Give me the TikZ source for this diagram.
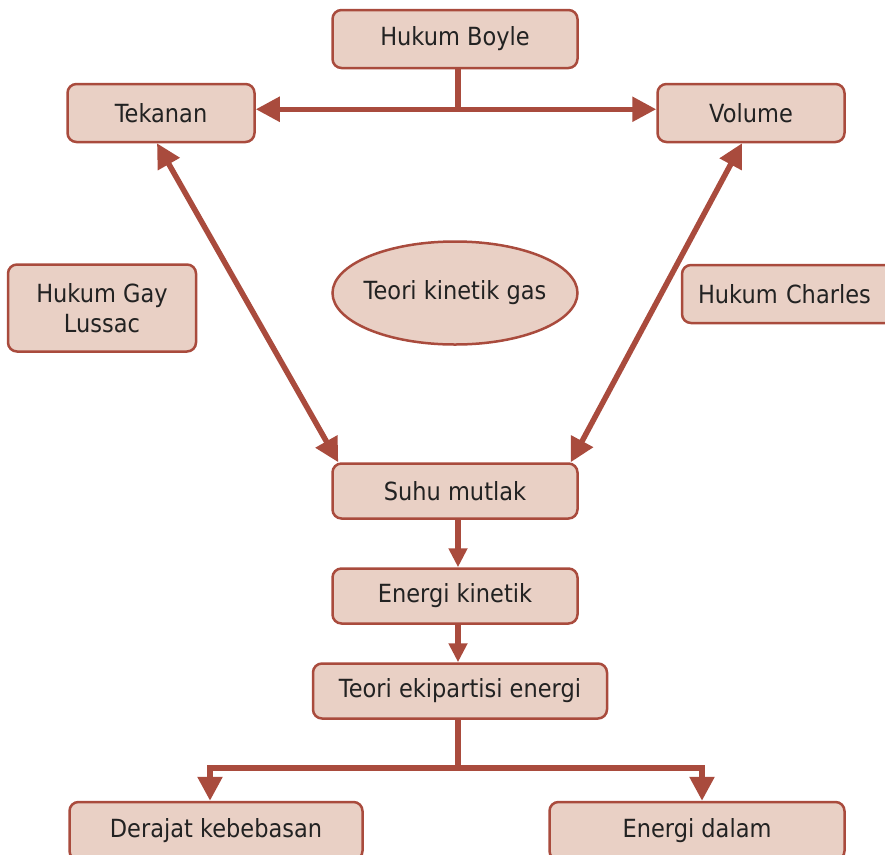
\documentclass[tikz,border=0pt]{standalone}
\usepackage{fontspec}
\setmainfont{DejaVu Sans}[FakeStretch=0.9]
\usetikzlibrary{arrows.meta, positioning, shapes.geometric}

\definecolor{edgered}{HTML}{A94B3D}
\definecolor{boxfill}{HTML}{E9D0C5}
\definecolor{txtgray}{HTML}{222222}

\begin{document}
\begin{tikzpicture}[x=1pt, y=-1pt,
    box/.style={draw=edgered, fill=boxfill, line width=2.5pt, rounded corners=9pt,
      minimum height=58pt, text=txtgray, font=\fontsize{25}{30}\selectfont, align=center},
    line/.style={draw=edgered, line width=5.5pt},
    arr/.style={line, -{Triangle[length=24pt, width=24pt]}},
    arrs/.style={line, -{Triangle[length=19pt, width=18pt]}},
    dbl/.style={line, {Triangle[length=24pt, width=24pt]}-{Triangle[length=24pt, width=24pt]}}]
  \useasboundingbox (0,0) rectangle (885,854);

  % top row
  \node[box, minimum width=245pt] (boyle) at (455,39) {Hukum Boyle};
  \node[box, minimum width=187pt] (tekanan) at (161,113) {Tekanan};
  \node[box, minimum width=187pt] (volume) at (751,113) {Volume};

  % middle
  \node[box, minimum width=188pt, minimum height=87pt] (gaylussac) at (102,308) {Hukum Gay\\Lussac};
  \node[ellipse, draw=edgered, fill=boxfill, line width=2.5pt, inner xsep=-14pt, inner ysep=0pt,
    minimum width=245pt, minimum height=103pt, text=txtgray,
    font=\fontsize{25}{30}\selectfont] (teori) at (455,293) {Teori kinetik gas};
  \node[box, minimum width=228pt, text width=196pt, align=left] (charles) at (796,294) {Hukum Charles};

  % chain
  \node[box, minimum width=245pt, minimum height=55pt] (suhu) at (455,491) {Suhu mutlak};
  \node[box, minimum width=245pt, minimum height=55pt] (ek) at (455,596) {Energi kinetik};
  \node[box, minimum width=294pt, minimum height=55pt] (ekipartisi) at (460,691) {Teori ekipartisi energi};
  \node[box, minimum width=293pt] (derajat) at (216,831) {Derajat kebebasan};
  \node[box, minimum width=295pt] (dalam) at (697,831) {Energi dalam};

  % connectors
  \draw[line] ([xshift=3pt]boyle.south) -- ++(0,40) coordinate (bj);
  \draw[dbl] (tekanan.east |- bj) -- (volume.west |- bj);
  \draw[dbl] ([xshift=-4pt]tekanan.south) -- ([xshift=7pt]suhu.north west);
  \draw[dbl] ([xshift=-9pt]volume.south) -- ([xshift=-8pt]suhu.north east);
  \draw[arrs] ([xshift=3pt]suhu.south) -- ([xshift=3pt]suhu.south |- ek.north);
  \draw[arrs] ([xshift=3pt]ek.south) -- ([xshift=3pt]ek.south |- ekipartisi.north);
  \draw[line] ([xshift=-2pt]ekipartisi.south) -- ++(0,48) coordinate (tj);
  \draw[arr] (tj) -| ([xshift=-6pt]derajat.north);
  \draw[arr] (tj) -| ([xshift=5pt]dalam.north);
\end{tikzpicture}
\end{document}
